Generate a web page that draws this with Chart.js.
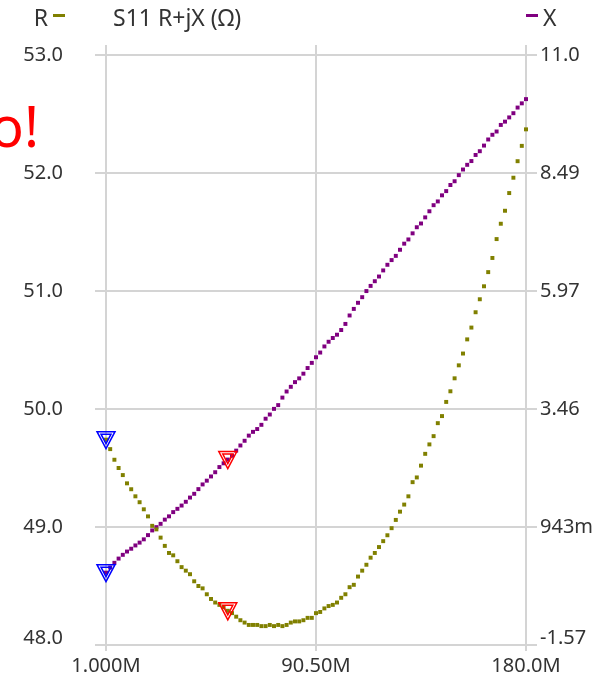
<!DOCTYPE html>
<html>
<head>
<meta charset="utf-8">
<script src="https://cdn.jsdelivr.net/npm/chart.js@4.4.1/dist/chart.umd.min.js"></script>
<style>
  html, body { margin: 0; padding: 0; background: #ffffff; }
  #wrap { width: 602px; height: 680px; }
</style>
</head>
<body>
<div id="wrap"><canvas id="s11Chart" width="602" height="680"></canvas></div>
<script>
// sweep settings (101 points, 1 MHz .. 180 MHz)
const sweepStart = 1000000;
const sweepStop = 180000000;
const sweepPoints = 101;

// R (ohm)
const rValues = [
  49.74, 49.66, 49.57, 49.50, 49.44, 49.37, 49.32, 49.26, 49.21, 49.15,
  49.09, 49.01, 48.98, 48.91, 48.84, 48.78, 48.76, 48.71, 48.66, 48.63,
  48.60, 48.54, 48.50, 48.48, 48.43, 48.39, 48.36, 48.34, 48.32, 48.29,
  48.27, 48.24, 48.21, 48.19, 48.17, 48.17, 48.17, 48.16, 48.16, 48.17,
  48.16, 48.17, 48.16, 48.17, 48.19, 48.20, 48.20, 48.21, 48.23, 48.23,
  48.27, 48.28, 48.31, 48.33, 48.34, 48.36, 48.40, 48.43, 48.49, 48.51,
  48.58, 48.63, 48.68, 48.74, 48.78, 48.83, 48.88, 48.93, 48.99, 49.06,
  49.13, 49.19, 49.26, 49.38, 49.42, 49.52, 49.62, 49.70, 49.77, 49.88,
  49.94, 50.06, 50.15, 50.26, 50.37, 50.47, 50.59, 50.69, 50.82, 50.93,
  51.04, 51.16, 51.28, 51.44, 51.57, 51.68, 51.83, 51.96, 52.10, 52.23,
  52.37
];

// X (ohm)
const xValues = [
  -0.03, 0.08, 0.18, 0.27, 0.35, 0.42, 0.48, 0.55, 0.61, 0.68,
  0.77, 0.87, 0.94, 1.01, 1.10, 1.17, 1.26, 1.33, 1.40, 1.48,
  1.57, 1.65, 1.75, 1.85, 1.93, 2.02, 2.11, 2.22, 2.30, 2.38,
  2.46, 2.57, 2.68, 2.78, 2.89, 2.97, 3.03, 3.12, 3.25, 3.34,
  3.46, 3.54, 3.70, 3.83, 3.93, 4.03, 4.11, 4.21, 4.33, 4.44,
  4.56, 4.66, 4.79, 4.89, 4.97, 5.04, 5.14, 5.27, 5.45, 5.59,
  5.72, 5.84, 5.97, 6.08, 6.18, 6.28, 6.41, 6.53, 6.63, 6.72,
  6.85, 6.98, 7.07, 7.20, 7.33, 7.41, 7.54, 7.67, 7.80, 7.88,
  8.01, 8.10, 8.23, 8.31, 8.44, 8.56, 8.66, 8.74, 8.87, 8.95,
  9.07, 9.20, 9.30, 9.37, 9.51, 9.58, 9.67, 9.76, 9.88, 9.97,
  10.06
];

const freqTickValues = [1000000, 90500000, 180000000];
const freqTickLabels = ['1.000M', '90.50M', '180.0M'];
const rTickLabels = ['48.0', '49.0', '50.0', '51.0', '52.0', '53.0'];
const xTickLabels = ['-1.57', '943m', '3.46', '5.97', '8.49', '11.0'];
const rRange = [48, 53];
const xRange = [-1.5714, 11.0];

// markers: sweep index + colour
const markerIndex = [0, 29];
const markerColors = ['#0000ff', '#ff0000'];

const rColor = '#808000';
const xColor = '#800080';
const gridColor = '#d4d4d4';
const textColor = '#333333';
const fontFamily = "'Noto Sans', sans-serif";

const freqs = [];
for (let i = 0; i < sweepPoints; i++) {
    freqs.push(sweepStart + (sweepStop - sweepStart) * i / (sweepPoints - 1));
}

function drawTriangle(ctx, x, y, color) {
    ctx.save();
    ctx.strokeStyle = color;
    ctx.lineWidth = 1.5;
    ctx.beginPath();
    ctx.moveTo(x - 9, y - 8);
    ctx.lineTo(x + 9, y - 8);
    ctx.lineTo(x, y + 9);
    ctx.closePath();
    ctx.stroke();
    ctx.beginPath();
    ctx.moveTo(x - 5, y - 5.5);
    ctx.lineTo(x + 5, y - 5.5);
    ctx.lineTo(x, y + 4);
    ctx.closePath();
    ctx.stroke();
    ctx.restore();
}

const decorPlugin = {
    id: 'decor',
    beforeDatasetsDraw(chart) {
        const ctx = chart.ctx;
        const area = chart.chartArea;
        const xs = chart.scales.x;
        // grid lines poke out above the top a bit
        ctx.save();
        ctx.strokeStyle = gridColor;
        ctx.lineWidth = 2;
        freqTickValues.forEach(v => {
            const px = Math.round(xs.getPixelForValue(v));
            ctx.beginPath();
            ctx.moveTo(px, area.top - 10);
            ctx.lineTo(px, area.top);
            ctx.stroke();
        });
        ctx.restore();
    },
    afterDatasetsDraw(chart) {
        const ctx = chart.ctx;
        const area = chart.chartArea;
        const xs = chart.scales.x;
        const yR = chart.scales.y;
        const yX = chart.scales.y1;
        markerIndex.forEach((idx, m) => {
            const px = xs.getPixelForValue(freqs[idx]);
            drawTriangle(ctx, px, yR.getPixelForValue(rValues[idx]), markerColors[m]);
            drawTriangle(ctx, px, yX.getPixelForValue(xValues[idx]), markerColors[m]);
        });

        ctx.save();
        // bottom tick labels sit on the bottom line
        ctx.font = '20px ' + fontFamily;
        ctx.fillStyle = textColor;
        ctx.textBaseline = 'alphabetic';
        ctx.textAlign = 'right';
        ctx.fillText(rTickLabels[0], area.left - 43, yR.getPixelForValue(rRange[0]) - 1);
        ctx.textAlign = 'left';
        ctx.fillText(xTickLabels[0], area.right + 14, yX.getPixelForValue(xRange[0]) - 1);

        // title + legend
        ctx.font = '23px ' + fontFamily;
        ctx.textAlign = 'left';
        ctx.fillText('S11 R+jX (\u03A9)', 113, 26);
        ctx.textAlign = 'right';
        ctx.fillText('R', 48, 26);
        ctx.textAlign = 'left';
        ctx.fillText('X', 543, 26);
        ctx.fillStyle = rColor;
        ctx.fillRect(53, 14, 12, 3);
        ctx.fillStyle = xColor;
        ctx.fillRect(526, 14, 12, 3);

        ctx.fillStyle = '#ff0000';
        ctx.font = '56px ' + fontFamily;
        ctx.textAlign = 'right';
        ctx.fillText('o!', 39, 147);
        ctx.restore();
    }
};

const ctx = document.getElementById('s11Chart').getContext('2d');
const s11Chart = new Chart(ctx, {
    type: 'line',
    data: {
        datasets: [
            {
                label: 'R',
                data: freqs.map((f, i) => ({ x: f, y: rValues[i] })),
                yAxisID: 'y',
                showLine: false,
                pointStyle: 'rect',
                pointRadius: 2.8,
                pointBorderWidth: 0,
                pointBackgroundColor: rColor,
                clip: false
            },
            {
                label: 'X',
                data: freqs.map((f, i) => ({ x: f, y: xValues[i] })),
                yAxisID: 'y1',
                showLine: false,
                pointStyle: 'rect',
                pointRadius: 2.8,
                pointBorderWidth: 0,
                pointBackgroundColor: xColor,
                clip: false
            }
        ]
    },
    options: {
        responsive: false,
        animation: false,
        layout: { padding: { top: 55, left: 0, right: 0, bottom: 0 } },
        plugins: {
            legend: { display: false },
            tooltip: { enabled: false }
        },
        scales: {
            x: {
                type: 'linear',
                min: sweepStart,
                max: sweepStop,
                afterBuildTicks: axis => { axis.ticks = freqTickValues.map(v => ({ value: v })); },
                afterFit: axis => { axis.height = 35; axis.paddingLeft = 0; axis.paddingRight = 0; },
                border: { display: false },
                grid: { color: gridColor, lineWidth: 2, tickLength: 6 },
                ticks: {
                    color: textColor,
                    font: { family: fontFamily, size: 20 },
                    padding: 3,
                    maxRotation: 0,
                    autoSkip: false,
                    callback: (v, i) => freqTickLabels[i]
                }
            },
            y: {
                position: 'left',
                min: rRange[0],
                max: rRange[1],
                afterBuildTicks: axis => { axis.ticks = rTickLabels.map(v => ({ value: parseFloat(v) })); },
                afterFit: axis => { axis.width = 106; axis.paddingTop = 0; axis.paddingBottom = 0; },
                border: { display: false },
                grid: { color: gridColor, lineWidth: 2, tickLength: 11 },
                ticks: {
                    color: textColor,
                    font: { family: fontFamily, size: 20 },
                    padding: 32,
                    callback: (v, i) => (i === 0 ? '' : rTickLabels[i])
                }
            },
            y1: {
                position: 'right',
                min: xRange[0],
                max: xRange[1],
                afterBuildTicks: axis => {
                    axis.ticks = xTickLabels.map((_, i) => ({ value: xRange[0] + i * (xRange[1] - xRange[0]) / 5 }));
                },
                afterFit: axis => { axis.width = 76; axis.paddingTop = 0; axis.paddingBottom = 0; },
                border: { display: false },
                grid: { color: gridColor, lineWidth: 2, tickLength: 11, drawOnChartArea: false },
                ticks: {
                    color: textColor,
                    font: { family: fontFamily, size: 20 },
                    padding: 3,
                    callback: (v, i) => (i === 0 ? '' : xTickLabels[i])
                }
            }
        }
    },
    plugins: [decorPlugin]
});
</script>
</body>
</html>
